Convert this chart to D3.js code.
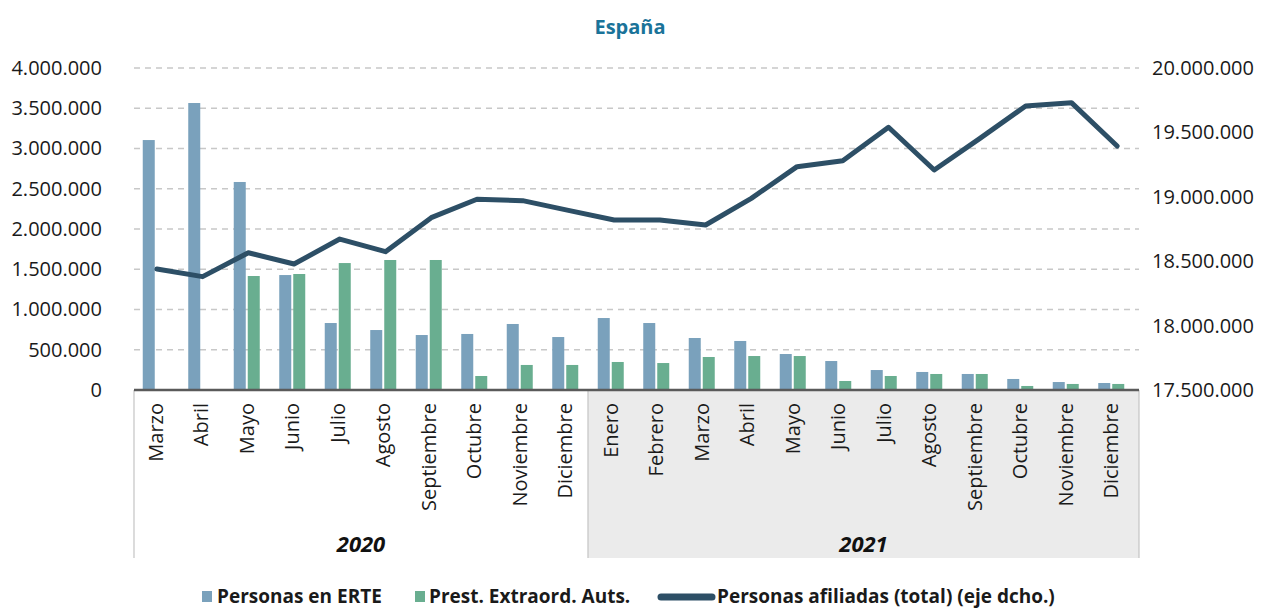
<!DOCTYPE html>
<html>
<head>
<meta charset="utf-8">
<script src="https://cdn.jsdelivr.net/npm/d3@7"></script>
<style>
  html, body { margin: 0; padding: 0; background: #fff; }
  svg { display: block; font-family: "Open Sans", sans-serif; }
</style>
</head>
<body>
<svg id="chart" width="1261" height="609"></svg>
<script>
// ---- Data ----
const months = ["Marzo","Abril","Mayo","Junio","Julio","Agosto","Septiembre","Octubre","Noviembre","Diciembre",
                "Enero","Febrero","Marzo","Abril","Mayo","Junio","Julio","Agosto","Septiembre","Octubre","Noviembre","Diciembre"];
const years = ["2020", "2021"];
const monthsPerYear = [10, 12];
const erte = [3105000, 3565000, 2584000, 1428000, 832000, 745000, 683000, 696000, 820000, 658000,
              894000, 832000, 646000, 609000, 447000, 360000, 248000, 224000, 199000, 137000, 99000, 87000];
const prest = [null, null, 1416000, 1441000, 1577000, 1615000, 1615000, 174000, 311000, 311000,
               348000, 335000, 410000, 422000, 422000, 112000, 174000, 199000, 199000, 50000, 75000, 75000];
const afiliados = [18439000, 18380000, 18566000, 18478000, 18672000, 18574000, 18838000, 18981000, 18970000, 18895000,
                   18820000, 18820000, 18781000, 18988000, 19234000, 19280000, 19540000, 19208000, 19454000, 19705000, 19731000, 19394000];
const leftTicks = [0, 500000, 1000000, 1500000, 2000000, 2500000, 3000000, 3500000, 4000000];
const rightTicks = [17500000, 18000000, 18500000, 19000000, 19500000, 20000000];
const seriesNames = ["Personas en ERTE", "Prest. Extraord. Auts.", "Personas afiliadas (total) (eje dcho.)"];
const title = "España";

// ---- Style ----
const C_ERTE = "#7aa1bc", C_PREST = "#69ae90", C_LINE = "#2d4f66", C_TITLE = "#1a7399";

const svg = d3.select("#chart");
const L = 134, R = 1139, T = 68, B = 390, BOX_B = 558;

const es = d3.formatLocale({decimal: ",", thousands: ".", grouping: [3], currency: ["", "€"]});
const fmt = es.format(",.0f");

const idx = d3.range(months.length);
const xBar = d3.scaleBand().domain(idx).range([133, 1134]);
const xLine = d3.scaleBand().domain(idx).range([134, 1140]);
const yL = d3.scaleLinear().domain([0, 4000000]).range([B, T]);
const yR = d3.scaleLinear().domain([17500000, 20000000]).range([B, T]);

// Title
svg.append("text").attr("x", 630).attr("y", 34).attr("text-anchor", "middle")
  .style("font-weight", 700).style("font-size", "20px").style("fill", C_TITLE).text(title);

// Category box
const splitX = xBar(monthsPerYear[0]);
svg.append("rect").attr("x", splitX).attr("y", B).attr("width", R - splitX).attr("height", BOX_B - B)
  .attr("fill", "#ebebeb");
[L, splitX, R].forEach(x => {
  svg.append("line").attr("x1", x).attr("x2", x).attr("y1", B).attr("y2", BOX_B)
    .attr("stroke", "#c4c4c4").attr("stroke-width", 1.2);
});

// Gridlines
svg.append("g").selectAll("line").data(leftTicks.slice(1)).join("line")
  .attr("x1", L).attr("x2", R).attr("y1", d => yL(d)).attr("y2", d => yL(d))
  .attr("stroke", "#c8c8c8").attr("stroke-width", 1.3).attr("stroke-dasharray", "6,5");

// Left axis
const gL = svg.append("g").attr("transform", `translate(${L},0)`)
  .call(d3.axisLeft(yL).tickValues(leftTicks).tickFormat(fmt).tickSize(0).tickPadding(32));
gL.select(".domain").remove();
gL.selectAll("text").style("font-size", "20px").style("fill", "#1a1a1a").style("font-family", "Open Sans");

// Right axis
const gR = svg.append("g").attr("transform", `translate(${R},0)`)
  .call(d3.axisRight(yR).tickValues(rightTicks).tickFormat(fmt).tickSize(0).tickPadding(13));
gR.select(".domain").remove();
gR.selectAll("text").style("font-size", "20px").style("fill", "#1a1a1a").style("font-family", "Open Sans");

// Bars
const bw = 12;
svg.append("g").selectAll("rect").data(idx).join("rect")
  .attr("x", i => xBar(i) + xBar.bandwidth() / 2 - bw - 1)
  .attr("y", i => yL(erte[i])).attr("width", bw).attr("height", i => yL(0) - yL(erte[i]))
  .attr("fill", C_ERTE);
svg.append("g").selectAll("rect").data(idx.filter(i => prest[i] != null)).join("rect")
  .attr("x", i => xBar(i) + xBar.bandwidth() / 2 + 1)
  .attr("y", i => yL(prest[i])).attr("width", bw).attr("height", i => yL(0) - yL(prest[i]))
  .attr("fill", C_PREST);

// Line
const line = d3.line().x(i => xLine(i) + xLine.bandwidth() / 2).y(i => yR(afiliados[i]));
svg.append("path").datum(idx).attr("d", line).attr("fill", "none")
  .attr("stroke", C_LINE).attr("stroke-width", 5).attr("stroke-linejoin", "round").attr("stroke-linecap", "round");

// Bottom axis (month labels)
const gB = svg.append("g").attr("transform", `translate(0,${B})`)
  .call(d3.axisBottom(xBar).tickFormat(i => months[i]).tickSize(0));
gB.select(".domain").remove();
gB.selectAll("text").attr("transform", "rotate(-90)").attr("x", -13).attr("y", 0).attr("dy", "0.36em")
  .style("text-anchor", "end").style("font-size", "20px").style("fill", "#1a1a1a").style("font-family", "Open Sans");

// Axis line
svg.append("line").attr("x1", L).attr("x2", R).attr("y1", B).attr("y2", B)
  .attr("stroke", "#5a5a5a").attr("stroke-width", 2.5);

// Year labels
let start = 0;
years.forEach((y, k) => {
  const x0 = k === 0 ? L : xBar(start);
  const x1 = k === years.length - 1 ? R : xBar(start + monthsPerYear[k]);
  svg.append("text").attr("x", (x0 + x1) / 2).attr("y", 552).attr("text-anchor", "middle")
    .style("font-weight", 700).style("font-style", "italic").style("font-size", "22px").style("fill", "#111")
    .text(y);
  start += monthsPerYear[k];
});

// Legend
const lg = svg.append("g").style("font-weight", 700).style("font-size", "19px").style("fill", "#1a1a1a");
lg.append("rect").attr("x", 202).attr("y", 591).attr("width", 10).attr("height", 11).attr("fill", C_ERTE);
lg.append("text").attr("x", 217).attr("y", 603).text(seriesNames[0]);
lg.append("rect").attr("x", 415).attr("y", 591).attr("width", 10).attr("height", 11).attr("fill", C_PREST);
lg.append("text").attr("x", 429).attr("y", 603).text(seriesNames[1]);
lg.append("line").attr("x1", 661).attr("x2", 712).attr("y1", 597).attr("y2", 597)
  .attr("stroke", C_LINE).attr("stroke-width", 7).attr("stroke-linecap", "round");
lg.append("text").attr("x", 717).attr("y", 603).text(seriesNames[2]);
</script>
</body>
</html>
